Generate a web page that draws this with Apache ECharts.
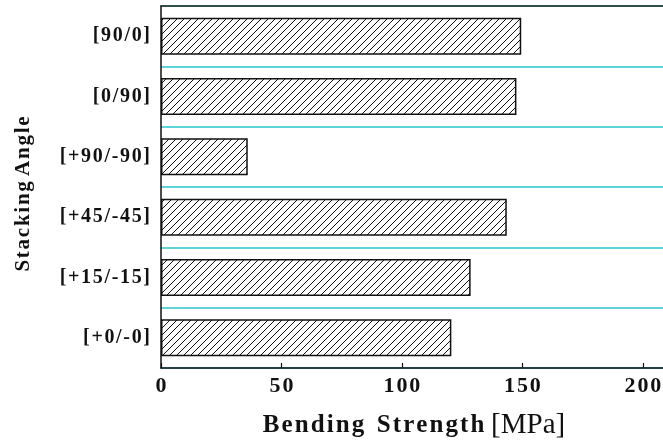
<!DOCTYPE html>
<html>
<head>
<meta charset="utf-8">
<script src="https://cdn.jsdelivr.net/npm/echarts@6/dist/echarts.min.js"></script>
<style>
  html, body { margin: 0; padding: 0; background: #fff; overflow: hidden; }
  /* the plot runs a few pixels past the right edge of the window */
  #chart { width: 667px; height: 448px; }
</style>
</head>
<body>
<div id="chart"></div>
<script>
// Stacking sequences, listed top to bottom
const categories = ['[90/0]', '[0/90]', '[+90/-90]', '[+45/-45]', '[+15/-15]', '[+0/-0]'];
// Bending strength in MPa for each stacking sequence
const strength = [149.5, 147.5, 36, 143.5, 128.5, 120.5];
// Strength axis ticks
const xTicks = [0, 50, 100, 150, 200];

// Loose letter tracking used by the bold serif labels
const HAIR = '\u200A';
function track(s, gap) {
  return Array.from(s).join(gap);
}

// Diagonal hatch fill for the bars
function hatchPattern() {
  const size = 7;
  const c = document.createElement('canvas');
  c.width = size; c.height = size;
  const g = c.getContext('2d');
  g.fillStyle = '#ffffff';
  g.fillRect(0, 0, size, size);
  g.strokeStyle = '#111111';
  g.lineWidth = 1;
  g.beginPath();
  g.moveTo(-1, size + 1); g.lineTo(size + 1, -1);
  g.moveTo(-1, 1); g.lineTo(1, -1);
  g.moveTo(size - 1, size + 1); g.lineTo(size + 1, size - 1);
  g.stroke();
  return c;
}

const serif = '"Liberation Serif", "Times New Roman", serif';
const chart = echarts.init(document.getElementById('chart'), null, { renderer: 'canvas' });

chart.setOption({
  animation: false,
  grid: { left: 161, top: 6, right: 0, bottom: 80, outerBoundsMode: 'none', containLabel: false },
  xAxis: [{
    type: 'value',
    min: 0,
    max: 210,
    interval: 50,
    axisLine: { show: true, lineStyle: { color: '#111', width: 1.5 } },
    axisTick: { show: true, inside: true, length: 5, customValues: xTicks, lineStyle: { color: '#111', width: 1.2 } },
    splitLine: { show: false },
    axisLabel: {
      customValues: xTicks,
      margin: 7,
      color: '#111',
      fontFamily: serif,
      fontWeight: 'bold',
      fontSize: 22,
      formatter: v => track(String(v), HAIR)
    },
    name: '{b|' + track('Bending', HAIR) + '  ' + track('Strength', HAIR) + '}  {n|[MPa]}',
    nameLocation: 'middle',
    nameGap: 43,
    nameTextStyle: {
      rich: {
        b: { fontFamily: serif, fontWeight: 'bold', fontSize: 25, color: '#111' },
        n: { fontFamily: serif, fontWeight: 'normal', fontSize: 29, color: '#111' }
      }
    }
  }, {
    // frame line along the top of the plot
    type: 'value',
    min: 0,
    max: 210,
    position: 'top',
    z: 10,
    axisLine: { show: true, lineStyle: { color: '#222', width: 1.5 } },
    axisTick: { show: false },
    axisLabel: { show: false },
    splitLine: { show: false }
  }],
  yAxis: {
    type: 'category',
    data: categories,
    inverse: true,
    axisLine: { show: true, lineStyle: { color: '#111', width: 1.5 } },
    axisTick: { show: true, alignWithLabel: true, inside: true, length: 4, lineStyle: { color: '#111', width: 1 } },
    splitLine: { show: true, lineStyle: { color: '#5dd5db', width: 2 } },
    axisLabel: {
      margin: 11,
      color: '#111',
      fontFamily: serif,
      fontWeight: 'bold',
      fontSize: 20,
      formatter: v => track(v, HAIR)
    },
    name: track('Stacking', HAIR) + ' ' + track('Angle', HAIR),
    nameLocation: 'middle',
    nameGap: 127,
    nameRotate: 90,
    nameTextStyle: { fontFamily: serif, fontWeight: 'bold', fontSize: 21, color: '#111', padding: [0, 14, 0, 0] }
  },
  series: [{
    type: 'bar',
    data: strength,
    barWidth: 37,
    itemStyle: {
      color: { image: hatchPattern(), repeat: 'repeat' },
      borderColor: '#111',
      borderWidth: 1.5
    }
  }]
});
</script>
</body>
</html>
